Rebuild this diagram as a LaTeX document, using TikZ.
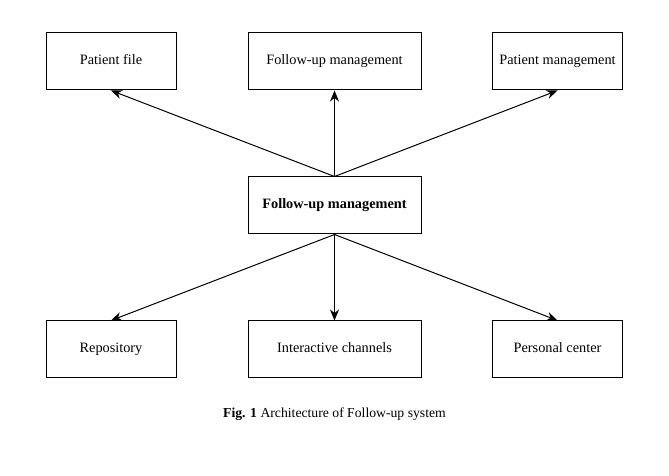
\documentclass[tikz,border=0pt]{standalone}
\usepackage{fontspec}
\setmainfont{Liberation Serif}
\usepackage{tikz}
\usetikzlibrary{arrows.meta}

\tikzset{
  box/.style={rectangle, draw, line width=1pt, minimum width=#1, minimum height=57pt, inner sep=0pt,
    text height=10pt, text depth=3pt, font=\fontsize{14.3}{17}\selectfont},
  box/.default=130pt,
  link/.style={-{Stealth[length=11pt,width=9pt]}, line width=1pt}
}

\begin{document}
\begin{tikzpicture}[x=1pt, y=1pt]
        \useasboundingbox (0,0) rectangle (669,476);

        % Define node styles
        \node [box] (pfile) at (111,414.5) {Patient file};
        \node [box=173pt] (fupper) at (334.5,414.5) {Follow-up management};
        \node [box] (pmgmt) at (557.5,414.5) {Patient management};
        \node [box=173pt] (fmain) at (334.5,270.5) {\bfseries Follow-up management};
        \node [box] (repo) at (111,126.5) {Repository};
        \node [box=173pt] (chan) at (334.5,126.5) {Interactive channels};
        \node [box] (pcenter) at (557.5,126.5) {Personal center};

        \node [font=\fontsize{13.7}{16}\selectfont] (caption) at (334.5,62) {\textbf{Fig. 1} Architecture of Follow-up system};

        % Draw edges with arrowheads
        \draw [link] (fmain.north) -- (pfile.south);
        \draw [link] (fmain.north) -- (fupper.south);
        \draw [link] (fmain.north) -- (pmgmt.south);
        \draw [link] (fmain.south) -- (repo.north);
        \draw [link] (fmain.south) -- (chan.north);
        \draw [link] (fmain.south) -- (pcenter.north);
    \end{tikzpicture}
\end{document}
